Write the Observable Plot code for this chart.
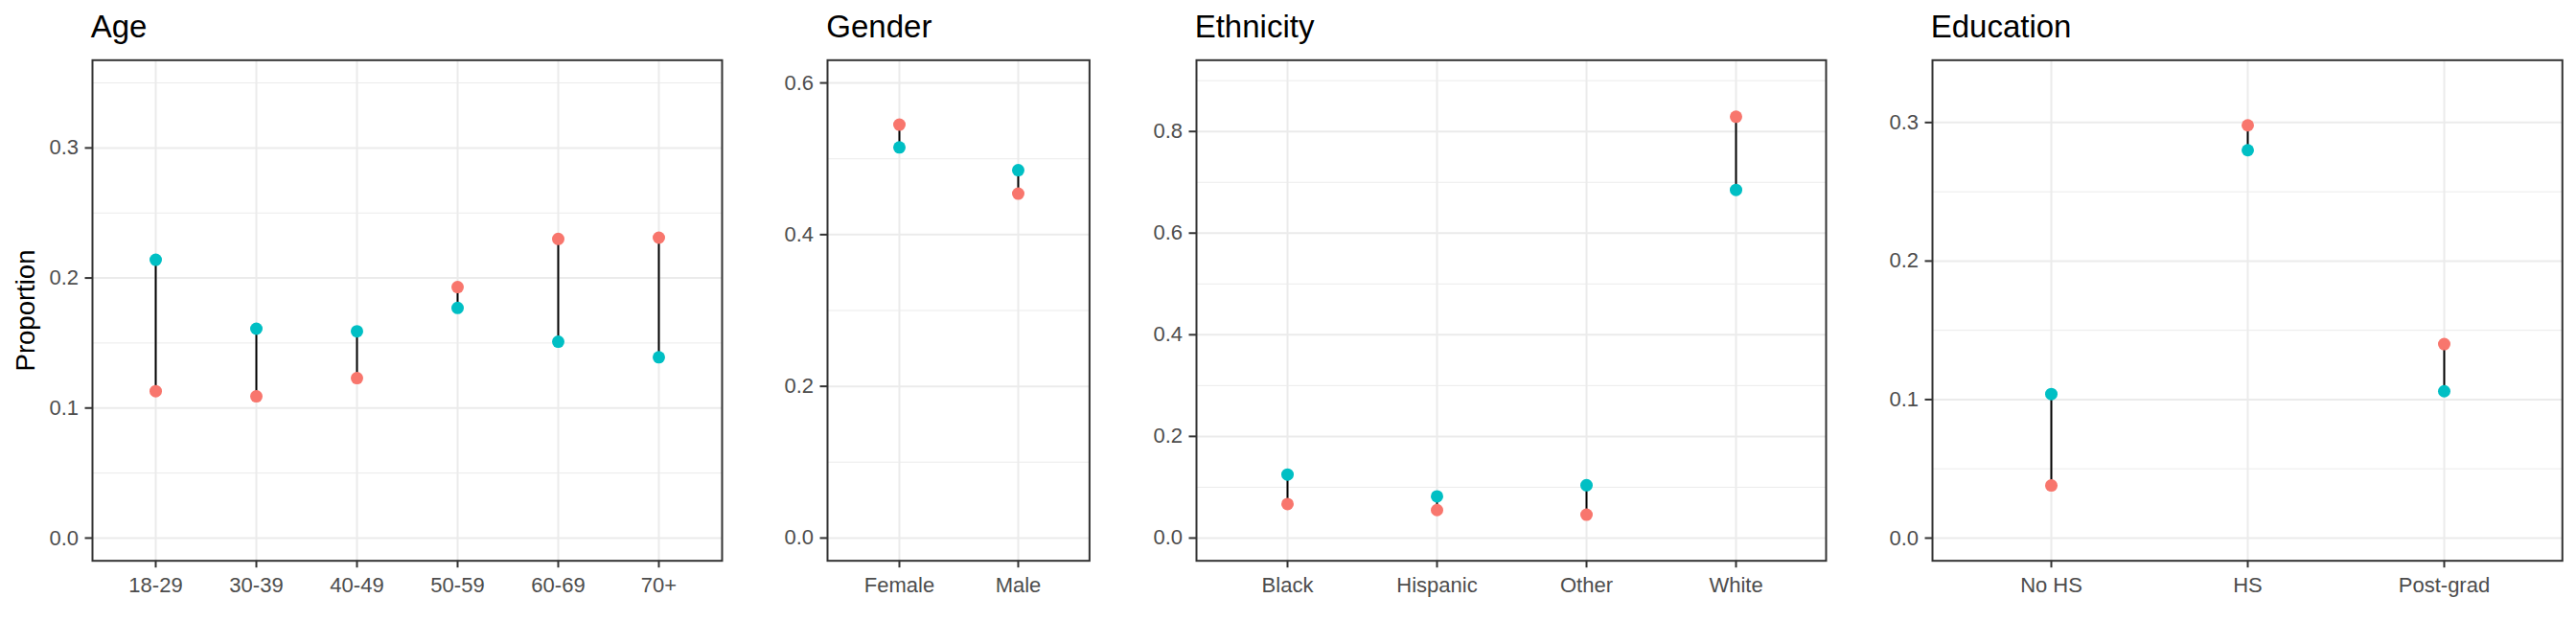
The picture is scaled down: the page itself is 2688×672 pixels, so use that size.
<!DOCTYPE html>
<html>
<head>
<meta charset="utf-8">
<script src="https://cdn.jsdelivr.net/npm/d3@7"></script>
<script src="https://cdn.jsdelivr.net/npm/@observablehq/plot@0.6"></script>
<style>
  html, body { margin: 0; padding: 0; background: #ffffff; }
  #root { position: relative; width: 2688px; height: 672px; background: #ffffff; overflow: hidden;
          font-family: "Liberation Sans", Arial, sans-serif; }
  .ptitle { position: absolute; font-size: 33px; line-height: 33px; color: #000; white-space: nowrap; }
  .ylab { position: absolute; font-size: 27.5px; line-height: 28px; color: #000; width: 300px; text-align: center;
          transform: rotate(-90deg); transform-origin: 50% 50%; white-space: nowrap; }
  .pbox { position: absolute; top: 0; }
</style>
</head>
<body>
<div id="root"></div>
<script>
// ---- Data ----
const ageCats = ["18-29", "30-39", "40-49", "50-59", "60-69", "70+"];
const ageRed  = [0.113, 0.109, 0.123, 0.193, 0.230, 0.231];
const ageCyan = [0.214, 0.161, 0.159, 0.177, 0.151, 0.139];
const ageTicks = [0, 0.1, 0.2, 0.3];
const ageMinor = [0.05, 0.15, 0.25, 0.35];

const genderCats = ["Female", "Male"];
const genderRed  = [0.545, 0.454];
const genderCyan = [0.515, 0.485];
const genderTicks = [0, 0.2, 0.4, 0.6];
const genderMinor = [0.1, 0.3, 0.5];

const ethCats = ["Black", "Hispanic", "Other", "White"];
const ethRed  = [0.067, 0.055, 0.046, 0.829];
const ethCyan = [0.125, 0.082, 0.104, 0.685];
const ethTicks = [0, 0.2, 0.4, 0.6, 0.8];
const ethMinor = [0.1, 0.3, 0.5, 0.7, 0.9];

const eduCats = ["No HS", "HS", "Post-grad"];
const eduRed  = [0.038, 0.298, 0.140];
const eduCyan = [0.104, 0.280, 0.106];
const eduTicks = [0, 0.1, 0.2, 0.3];
const eduMinor = [0.05, 0.15, 0.25];

const panelTitles = ["Age", "Gender", "Ethnicity", "Education"];
const yTitle = "Proportion";

// ---- Layout / style ----
const RED = "#F8766D", CYAN = "#00BFC4", GRID = "#EBEBEB", BORDER = "#333333", TEXT = "#4D4D4D";
const H = 672, MT = 62.3, MB = 672 - 584.7, ML = 90, MR = 12;

const panels = [
  {title: panelTitles[0], cats: ageCats, red: ageRed, cyan: ageCyan, ticks: ageTicks, minor: ageMinor,
   left: 95.7, right: 752.7, domain: [-0.0175, 0.3675]},
  {title: panelTitles[1], cats: genderCats, red: genderRed, cyan: genderCyan, ticks: genderTicks, minor: genderMinor,
   left: 863.3, right: 1136.7, domain: [-0.03, 0.63]},
  {title: panelTitles[2], cats: ethCats, red: ethRed, cyan: ethCyan, ticks: ethTicks, minor: ethMinor,
   left: 1247.7, right: 1904.7, domain: [-0.0448, 0.9403]},
  {title: panelTitles[3], cats: eduCats, red: eduRed, cyan: eduCyan, ticks: eduTicks, minor: eduMinor,
   left: 2015.7, right: 2673, domain: [-0.0164, 0.3450]}
];

const root = document.getElementById("root");

panels.forEach((p) => {
  const rows = p.cats.map((c, i) => ({cat: c, red: p.red[i], cyan: p.cyan[i]}));
  const ml = Math.min(ML, p.left);
  const width = ml + (p.right - p.left) + MR;
  const chart = Plot.plot({
    width, height: H,
    marginTop: MT, marginBottom: MB, marginLeft: ml, marginRight: MR,
    style: {fontFamily: "'Liberation Sans', Arial, sans-serif", fontSize: "22px", background: "transparent", overflow: "visible"},
    x: {type: "point", domain: p.cats, padding: 0.6},
    y: {domain: p.domain},
    marks: [
      Plot.ruleY(p.minor, {stroke: GRID, strokeWidth: 1}),
      Plot.ruleY(p.ticks, {stroke: GRID, strokeWidth: 2}),
      Plot.ruleX(p.cats, {stroke: GRID, strokeWidth: 2}),
      Plot.ruleX(rows, {x: "cat", y1: "red", y2: "cyan", stroke: "black", strokeWidth: 2}),
      Plot.dot(rows, {x: "cat", y: "cyan", r: 6.5, fill: CYAN, stroke: null}),
      Plot.dot(rows, {x: "cat", y: "red", r: 6.5, fill: RED, stroke: null}),
      Plot.frame({stroke: BORDER, strokeWidth: 2}),
      Plot.axisX({tickSize: 7.5, tickPadding: 9.8, fontSize: 22, fill: TEXT, stroke: BORDER, strokeWidth: 2, label: null}),
      Plot.axisY({ticks: p.ticks, tickFormat: d3.format(".1f"), tickSize: 7.5, tickPadding: 7, fontSize: 22,
                  fill: TEXT, stroke: BORDER, strokeWidth: 2, label: null})
    ]
  });
  const box = document.createElement("div");
  box.className = "pbox";
  box.style.left = (p.left - ml) + "px";
  box.appendChild(chart);
  root.appendChild(box);

  const t = document.createElement("div");
  t.className = "ptitle";
  t.textContent = p.title;
  t.style.left = (p.left - 1) + "px";
  t.style.top = "11px";
  root.appendChild(t);
});

const yl = document.createElement("div");
yl.className = "ylab";
yl.textContent = yTitle;
yl.style.left = (27 - 150) + "px";
yl.style.top = (323.5 - 14) + "px";
root.appendChild(yl);
</script>
</body>
</html>
